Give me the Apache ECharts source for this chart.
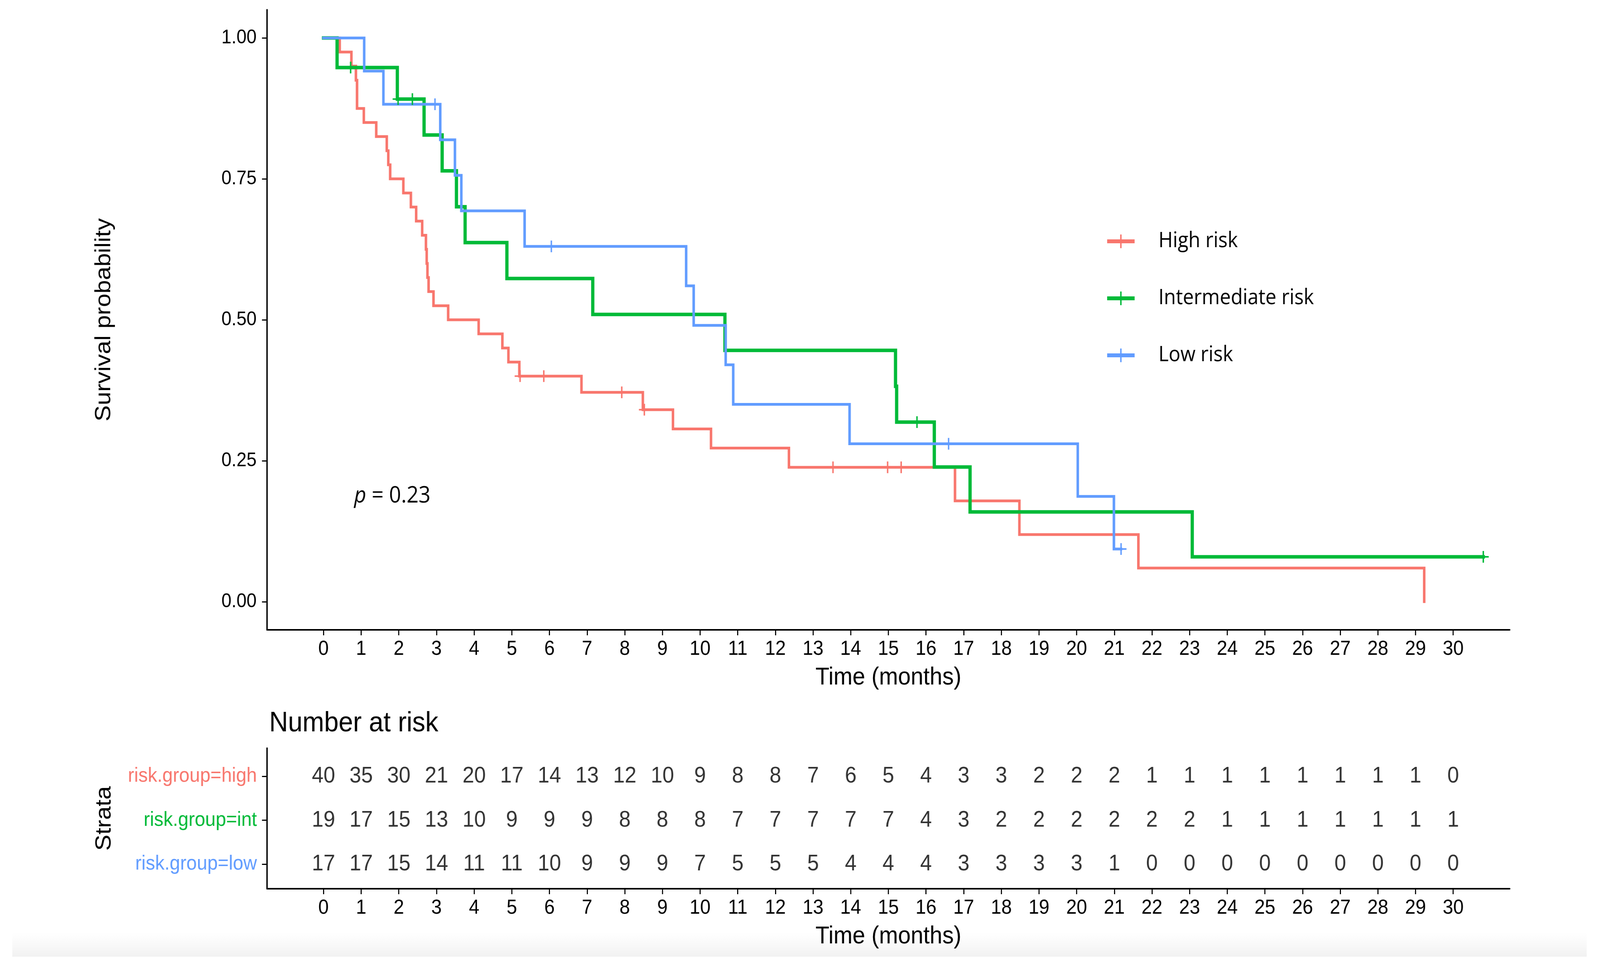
<!DOCTYPE html>
<html>
<head>
<meta charset="utf-8">
<script src="https://cdn.jsdelivr.net/npm/echarts@6/dist/echarts.min.js"></script>
<style>
html,body{margin:0;padding:0;background:#ffffff;overflow:hidden;}
#chart{width:4428px;height:2479px;transform-origin:0 0;position:absolute;left:0;top:0;}
</style>
</head>
<body>
<div id="chart"></div>
<script>
// ---------- data ----------
const groupNames = ['High risk', 'Intermediate risk', 'Low risk'];
const strataLabels = ['risk.group=high', 'risk.group=int', 'risk.group=low'];
const groupColors = ['#F8766D', '#00BA38', '#619CFF'];

// Kaplan-Meier step points [time, survival after step]
const highCurve = [[0,1],[0.43,0.975],[0.74,0.95],[0.86,0.925],[0.89,0.875],[1.07,0.85],[1.40,0.825],[1.68,0.80],[1.72,0.775],[1.77,0.75],[2.12,0.725],[2.32,0.70],[2.46,0.675],[2.62,0.65],[2.72,0.625],[2.74,0.60],[2.76,0.575],[2.79,0.55],[2.92,0.525],[3.31,0.50],[4.12,0.475],[4.75,0.45],[4.91,0.425],[5.20,0.40],[6.85,0.3714],[8.48,0.3405],[9.28,0.3064],[10.29,0.2724],[12.36,0.2383],[16.77,0.1787],[18.48,0.1191],[21.64,0.0596],[29.23,0]];
const intCurve = [[0,1],[0.36,0.9474],[1.96,0.8916],[2.67,0.8279],[3.15,0.7643],[3.53,0.7006],[3.76,0.6369],[4.87,0.5732],[7.15,0.5095],[10.66,0.4458],[15.19,0.3821],[15.22,0.3185],[16.22,0.2389],[17.17,0.1592],[23.07,0.0796],[30.8,0.0796]];
const lowCurve = [[0,1],[1.08,0.9412],[1.59,0.8824],[3.10,0.8193],[3.49,0.7563],[3.66,0.6933],[5.34,0.6303],[9.63,0.5602],[9.83,0.4902],[10.68,0.4202],[10.88,0.3501],[13.97,0.2801],[20.03,0.1867],[20.99,0.0934],[21.18,0.0934]];

// censoring marks [time, survival]
const highCensor = [[5.22,0.40],[5.85,0.40],[7.92,0.3714],[8.52,0.3405],[13.53,0.2383],[14.98,0.2383],[15.34,0.2383]];
const intCensor = [[0.72,0.9474],[1.98,0.8916],[2.36,0.8916],[15.76,0.3185],[30.8,0.0796]];
const lowCensor = [[2.96,0.8824],[6.05,0.6303],[16.6,0.2801],[21.18,0.0934]];

// number at risk table
const riskTimes = [0,1,2,3,4,5,6,7,8,9,10,11,12,13,14,15,16,17,18,19,20,21,22,23,24,25,26,27,28,29,30];
const riskHigh = [40,35,30,21,20,17,14,13,12,10,9,8,8,7,6,5,4,3,3,2,2,2,1,1,1,1,1,1,1,1,0];
const riskInt  = [19,17,15,13,10,9,9,9,8,8,8,7,7,7,7,7,4,3,2,2,2,2,2,2,1,1,1,1,1,1,1];
const riskLow  = [17,17,15,14,11,11,10,9,9,9,7,5,5,5,4,4,4,3,3,3,3,1,0,0,0,0,0,0,0,0,0];

const yTicks = [0, 0.25, 0.5, 0.75, 1];
const pValueText = '0.23';

// ---------- fit the 4428x2479 design to the real viewport ----------
const W = 4428, H = 2479;
const el = document.getElementById('chart');
const sx = (window.innerWidth || W) / W;
const sy = (window.innerHeight || H) / H;
el.style.transform = 'scale(' + sx + ',' + sy + ')';

// ---------- chart ----------
const chart = echarts.init(el, null, {renderer: 'canvas'});
const AX = '#000000';
const FONT = 'Liberation Sans';
const plusSym = 'path://M0,13H30V17H0Z M13,0H17V30H13Z';
const legendIcon = 'path://M0,12.5H76V22.5H0Z M36,0H40V35H36Z';

const curves = [highCurve, intCurve, lowCurve];
const censors = [highCensor, intCensor, lowCensor];
const risks = [riskHigh, riskInt, riskLow];
const lineWidths = [7, 9, 7];

const series = [];
curves.forEach((c, i) => {
  series.push({
    name: groupNames[i], type: 'line', xAxisIndex: 0, yAxisIndex: 0,
    data: c, step: 'end', showSymbol: false, symbol: 'none',
    lineStyle: {color: groupColors[i], width: lineWidths[i], cap: 'square', join: 'miter'},
    itemStyle: {color: groupColors[i]},
    z: 2 + i, silent: true
  });
});
censors.forEach((c, i) => {
  series.push({
    type: 'scatter', xAxisIndex: 0, yAxisIndex: 0, data: c,
    symbol: plusSym, symbolSize: 30,
    itemStyle: {color: groupColors[i], opacity: 1}, z: 10, silent: true
  });
});
const rowVal = [3, 2, 1];
risks.forEach((r, i) => {
  series.push({
    type: 'scatter', xAxisIndex: 1, yAxisIndex: 1,
    data: riskTimes.map((t, k) => [t, rowVal[i], r[k]]),
    symbolSize: 1, itemStyle: {color: 'rgba(0,0,0,0)'},
    label: {show: true, position: 'inside', formatter: p => String(p.value[2]),
            fontSize: 58, color: '#000', fontFamily: FONT},
    silent: true
  });
});

const commonX = {
  type: 'value', min: -1.5, max: 31.5,
  axisLine: {show: true, onZero: false, lineStyle: {color: AX, width: 4}},
  axisTick: {show: true, customValues: riskTimes, length: 14, lineStyle: {color: AX, width: 3}},
  axisLabel: {show: true, customValues: riskTimes, fontSize: 52, color: '#000', margin: 24, fontFamily: FONT},
  splitLine: {show: false},
  name: 'Time (months)', nameLocation: 'middle', nameGap: 91,
  nameTextStyle: {fontSize: 63, color: '#000', fontFamily: FONT}
};

const option = {
  animation: false,
  backgroundColor: '#ffffff',
  textStyle: {fontFamily: FONT},
  title: [
    {text: 'Number at risk', left: 740, top: 1812,
     textStyle: {fontSize: 72, fontWeight: 'normal', color: '#000', fontFamily: FONT}},
    {text: '{i|p}{n| = ' + pValueText + '}', left: 975, top: 1236,
     textStyle: {fontWeight: 'normal', rich: {
       i: {fontSize: 58, fontStyle: 'italic', fontWeight: 'normal', color: '#000', fontFamily: 'Open Sans'},
       n: {fontSize: 58, fontWeight: 'normal', color: '#000', fontFamily: 'Open Sans'}
     }}}
  ],
  legend: {
    data: groupNames, orient: 'vertical', left: 3059, top: 583,
    icon: legendIcon, itemWidth: 76, itemHeight: 35, itemGap: 86,
    selectedMode: false,
    textStyle: {fontSize: 54, lineHeight: 60, color: '#000', fontFamily: 'Open Sans', padding: [0, 0, 0, 61]}
  },
  grid: [
    {left: 739, top: 25, width: 3439, height: 1588, containLabel: false},
    {left: 739, top: 1916, width: 3439, height: 360, containLabel: false}
  ],
  xAxis: [
    Object.assign({gridIndex: 0}, commonX),
    Object.assign({gridIndex: 1}, commonX)
  ],
  yAxis: [
    {
      gridIndex: 0, type: 'value', min: -0.05, max: 1.05,
      axisLine: {show: true, onZero: false, lineStyle: {color: AX, width: 4}},
      axisTick: {show: true, customValues: yTicks, length: 14, lineStyle: {color: AX, width: 3}},
      axisLabel: {show: true, customValues: yTicks, formatter: v => Number(v).toFixed(2),
                  fontSize: 50, color: '#000', margin: 29, fontFamily: FONT},
      splitLine: {show: false},
      name: 'Survival probability', nameLocation: 'middle', nameGap: 420,
      nameTextStyle: {fontSize: 62, color: '#000', fontFamily: FONT}
    },
    {
      gridIndex: 1, type: 'value', min: 0.44, max: 3.64,
      axisLine: {show: true, onZero: false, lineStyle: {color: AX, width: 4}},
      axisTick: {show: true, customValues: rowVal, length: 14, lineStyle: {color: AX, width: 3}},
      axisLabel: {show: true, customValues: rowVal, margin: 28,
        formatter: v => {
          const k = rowVal.indexOf(Math.round(v));
          return '{s' + k + '|' + strataLabels[k] + '}';
        },
        rich: {
          s0: {color: groupColors[0], fontSize: 52, fontFamily: FONT},
          s1: {color: groupColors[1], fontSize: 52, fontFamily: FONT},
          s2: {color: groupColors[2], fontSize: 52, fontFamily: FONT}
        }
      },
      splitLine: {show: false},
      name: 'Strata', nameLocation: 'middle', nameGap: 419,
      nameTextStyle: {fontSize: 62, color: '#000', fontFamily: FONT}
    }
  ],
  graphic: [{
    type: 'rect', z: -10, silent: true,
    shape: {x: 34, y: 2388, width: 4357, height: 62},
    style: {fill: new echarts.graphic.LinearGradient(0, 0, 0, 1, [
      {offset: 0, color: 'rgba(245,245,245,0)'}, {offset: 1, color: '#f1f1f1'}])}
  }],
  series: series
};
chart.setOption(option);
</script>
</body>
</html>
